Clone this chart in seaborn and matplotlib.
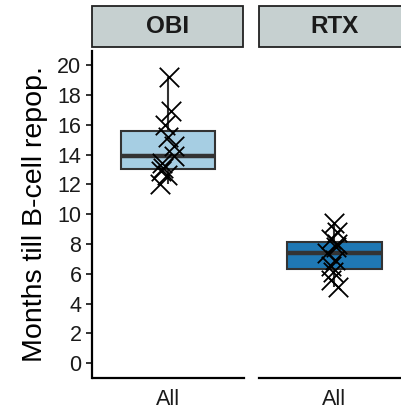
import numpy as np
import pandas as pd
import matplotlib
matplotlib.use("Agg")
import matplotlib.pyplot as plt
import seaborn as sns
from matplotlib.patches import Rectangle

# ---- data ----
treatments = ["OBI", "RTX"]
group_label = "All"
obi_months = [19.2, 16.9, 16.0, 15.2, 14.6, 13.9, 13.4, 13.1, 12.9, 12.6, 12.0]
rtx_months = [9.4, 8.8, 8.3, 8.0, 7.8, 7.4, 6.9, 6.5, 6.1, 5.6, 5.1]
box_colors = ["#A6CEE3", "#1F78B4"]
y_ticks = list(range(0, 21, 2))
y_label = "Months till B-cell repop."

sns.set_theme(style="white")
plt.rcParams["font.family"] = ["Liberation Sans", "DejaVu Sans"]

df = pd.concat([
    pd.DataFrame({"treatment": "OBI", "group": group_label, "months": obi_months}),
    pd.DataFrame({"treatment": "RTX", "group": group_label, "months": rtx_months}),
])

W, H = 402, 413
fig = plt.figure(figsize=(W / 100, H / 100), dpi=100)

ax_bottom_px, ax_top_px = 378, 51
panel_w = 151
lefts = [92.5, 259]
strip_top, strip_bot = 5.5, 47

np.random.seed(3)
axes = []
for i, (trt, col) in enumerate(zip(treatments, box_colors)):
    ax = fig.add_axes([lefts[i] / W, (H - ax_bottom_px) / H, panel_w / W,
                       (ax_bottom_px - ax_top_px) / H])
    sub = df[df["treatment"] == trt]
    sns.boxplot(data=sub, x="group", y="months", ax=ax, color=col, saturation=1,
                width=0.75, linecolor="#333333", linewidth=1.5, showcaps=False,
                showfliers=False, medianprops={"linewidth": 3.2, "color": "#333333"})
    sns.stripplot(data=sub, x="group", y="months", ax=ax, marker="x", size=14,
                  color="black", linewidth=1.3, jitter=0.065)
    ax.set_xlim(-0.6, 0.6)
    ax.set_ylim(-1.0, 20.95)
    ax.set_xlabel("")
    ax.set_ylabel("")
    for s in ["top", "right"]:
        ax.spines[s].set_visible(False)
    ax.spines["bottom"].set_color("black")
    ax.spines["bottom"].set_linewidth(1.6)
    ax.tick_params(axis="x", length=4, width=1.4, colors="#333333",
                   labelsize=15.5, labelcolor="#1a1a1a", pad=4)
    if i == 0:
        ax.spines["left"].set_color("black")
        ax.spines["left"].set_linewidth(1.6)
        ax.set_yticks(y_ticks)
        ax.tick_params(axis="y", length=4, width=1.4, colors="#333333",
                       labelsize=15.5, labelcolor="#1a1a1a", pad=4, left=True)
        ax.set_ylabel(y_label, fontsize=20.5, color="black", labelpad=7)
    else:
        ax.spines["left"].set_visible(False)
        ax.set_yticks([])
    ax.set_facecolor("white")
    # strip
    rect = Rectangle((lefts[i] / W, (H - strip_bot) / H), (panel_w - 1) / W,
                     (strip_bot - strip_top) / H, transform=fig.transFigure,
                     facecolor="#C6D0D0", edgecolor="#222222", linewidth=1.3,
                     clip_on=False)
    fig.add_artist(rect)
    fig.text((lefts[i] + panel_w / 2) / W, (H - (strip_top + strip_bot) / 2) / H,
             trt, ha="center", va="center", fontsize=17.5, fontweight="bold",
             color="#1a1a1a")
    axes.append(ax)

fig.savefig("out.png", dpi=100)
